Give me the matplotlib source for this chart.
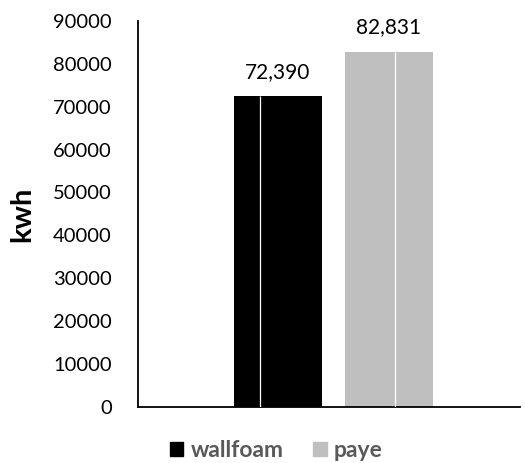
import matplotlib.pyplot as plt
from matplotlib.patches import Patch

plt.rcParams['font.family'] = ['Lato', 'DejaVu Sans']

series = ["wallfoam", "paye"]
energy = [72390, 82831]
colors = ["#000000", "#bfbfbf"]
yticks = [0, 10000, 20000, 30000, 40000, 50000, 60000, 70000, 80000, 90000]

fig = plt.figure(figsize=(5.25, 4.63), dpi=100)
ax = fig.add_axes([0.263, 0.121, 0.727, 0.834])

xpos = [0, 1]
width = 0.79
bars = ax.bar(xpos, energy, width=width, color=colors, zorder=2)

# thin white seams across each bar
seams = [-0.160, 0.060]
for x, off, v in zip(xpos, seams, energy):
    ax.vlines(x + off, 0, v, color="white", lw=0.9, zorder=3)

for x, v in zip(xpos, energy):
    ax.text(x, v + 3300, f"{v:,}", ha="center", va="bottom", fontsize=15, color="#000000")

ax.set_xlim(-1.26, 2.18)
ax.set_ylim(0, 90000)
ax.set_yticks(yticks)
ax.set_yticklabels([str(t) for t in yticks], fontsize=14.5)
ax.set_xticks([])
ax.tick_params(axis="y", length=0, pad=19)
for s in ["top", "right"]:
    ax.spines[s].set_visible(False)
for s in ["left", "bottom"]:
    ax.spines[s].set_linewidth(1.3)
ax.set_ylabel("kwh", fontsize=21, fontweight="bold", labelpad=13)

handles = [Patch(color=c, label=s) for c, s in zip(colors, series)]
leg = fig.legend(handles=handles, loc="lower center", bbox_to_anchor=(0.526, -0.04),
                 ncol=2, frameon=False, handlelength=0.6, handleheight=0.6,
                 handletextpad=0.3, columnspacing=1.3,
                 prop={"size": 16.5, "weight": "bold"})
for t in leg.get_texts():
    t.set_color("#595959")

fig.savefig("out.png", dpi=100)
